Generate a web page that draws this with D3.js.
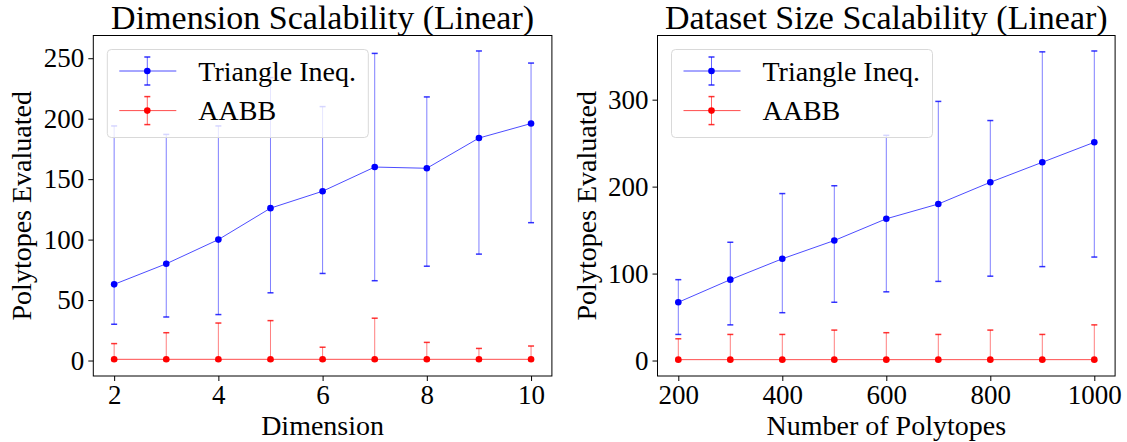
<!DOCTYPE html>
<html>
<head>
  <meta charset="UTF-8">
  <title>Scalability</title>
  <script src="https://d3js.org/d3.v7.min.js"></script>
  <style>
    body { margin: 0; background: #fff; }
    svg text { font-family: "Liberation Serif", "Times New Roman", serif; fill: #000; }
  </style>
</head>
<body>
<svg id="chart" width="1127" height="442"></svg>
<script>

  // ---- data ----
  var dimensions = [2, 3, 4, 5, 6, 7, 8, 9, 10];
  var dimTriMean  = [63, 80, 100, 126, 140, 160, 159, 184, 196];
  var dimTriLow   = [30, 36, 38, 56, 72, 66, 78, 88, 114];
  var dimTriHigh  = [194, 187, 194, 234, 210, 254, 218, 256, 246];
  var dimAabbMean = [1, 1, 1, 1, 1, 1, 1, 1, 1];
  var dimAabbLow  = [0, 0, 0, 0, 0, 0, 0, 0, 0];
  var dimAabbHigh = [14, 23, 31, 33, 11, 35, 15, 10, 12];
  var dimYTicks = [0, 50, 100, 150, 200, 250];
  var dimXTicks = [2, 4, 6, 8, 10];

  var sizes = [200, 300, 400, 500, 600, 700, 800, 900, 1000];
  var sizeTriMean  = [67, 93, 117, 138, 163, 180, 205, 228, 251];
  var sizeTriLow   = [30, 41, 55, 67, 79, 91, 97, 108, 119];
  var sizeTriHigh  = [93, 136, 192, 201, 259, 298, 276, 355, 356];
  var sizeAabbMean = [1, 1, 1, 1, 1, 1, 1, 1, 1];
  var sizeAabbLow  = [0, 0, 0, 0, 0, 0, 0, 0, 0];
  var sizeAabbHigh = [25, 30, 30, 35, 32, 30, 35, 30, 41];
  var sizeYTicks = [0, 100, 200, 300];
  var sizeXTicks = [200, 400, 600, 800, 1000];

  var seriesNames = ['Triangle Ineq.', 'AABB'];
  var seriesColors = ['#0000ff', '#ff0000'];

  var svg = d3.select('#chart');

  function pack(xs, mean, lo, hi) {
    return xs.map((x, i) => ({ x: x, y: mean[i], lo: lo[i], hi: hi[i] }));
  }

  var panels = [
    {
      left: 93.3, right: 551.9, title: 'Dimension Scalability (Linear)',
      xlabel: 'Dimension', xTicks: dimXTicks, yTicks: dimYTicks,
      series: [pack(dimensions, dimTriMean, dimTriLow, dimTriHigh),
               pack(dimensions, dimAabbMean, dimAabbLow, dimAabbHigh)]
    },
    {
      left: 657.5, right: 1115.1, title: 'Dataset Size Scalability (Linear)',
      xlabel: 'Number of Polytopes', xTicks: sizeXTicks, yTicks: sizeYTicks,
      series: [pack(sizes, sizeTriMean, sizeTriLow, sizeTriHigh),
               pack(sizes, sizeAabbMean, sizeAabbLow, sizeAabbHigh)]
    }
  ];

  var plotTop = 35.5, plotBottom = 376;

  panels.forEach(function (p) {
    var all = d3.merge(p.series);
    var xExt = d3.extent(all, d => d.x);
    var yMin = d3.min(all, d => d.lo), yMax = d3.max(all, d => d.hi);
    var xPad = (xExt[1] - xExt[0]) * 0.05, yPad = (yMax - yMin) * 0.05;

    var x = d3.scaleLinear().domain([xExt[0] - xPad, xExt[1] + xPad]).range([p.left, p.right]);
    var y = d3.scaleLinear().domain([yMin - yPad, yMax + yPad]).range([plotBottom, plotTop]);

    var g = svg.append('g');

    // series: error bars, line, markers
    p.series.forEach(function (data, si) {
      var c = seriesColors[si];
      var s = g.append('g');
      s.selectAll('.err').data(data).enter().append('line')
        .attr('x1', d => x(d.x)).attr('x2', d => x(d.x))
        .attr('y1', d => y(d.lo)).attr('y2', d => y(d.hi))
        .attr('stroke', c).attr('stroke-opacity', 0.5).attr('stroke-width', 1);
      ['lo', 'hi'].forEach(function (k) {
        s.selectAll('.cap-' + k).data(data).enter().append('line')
          .attr('x1', d => x(d.x) - 3).attr('x2', d => x(d.x) + 3)
          .attr('y1', d => y(d[k])).attr('y2', d => y(d[k]))
          .attr('stroke', c).attr('stroke-opacity', 0.8).attr('stroke-width', 1.5);
      });
      s.append('path').datum(data)
        .attr('d', d3.line().x(d => x(d.x)).y(d => y(d.y)))
        .attr('fill', 'none').attr('stroke', c).attr('stroke-opacity', 0.7).attr('stroke-width', 1);
      s.selectAll('circle').data(data).enter().append('circle')
        .attr('cx', d => x(d.x)).attr('cy', d => y(d.y)).attr('r', 3.3)
        .attr('fill', c);
    });

    // frame
    g.append('rect')
      .attr('x', p.left).attr('y', plotTop)
      .attr('width', p.right - p.left).attr('height', plotBottom - plotTop)
      .attr('fill', 'none').attr('stroke', '#000').attr('stroke-width', 1);

    // axes
    var xAxis = d3.axisBottom(x).tickValues(p.xTicks).tickFormat(d3.format('d'))
      .tickSize(5).tickSizeOuter(0).tickPadding(4);
    var gx = g.append('g').attr('transform', 'translate(0,' + plotBottom + ')').call(xAxis);
    var yAxis = d3.axisLeft(y).tickValues(p.yTicks).tickFormat(d3.format('d'))
      .tickSize(5).tickSizeOuter(0).tickPadding(4);
    var gy = g.append('g').attr('transform', 'translate(' + p.left + ',0)').call(yAxis);
    [gx, gy].forEach(function (a) {
      a.select('.domain').remove();
      a.selectAll('.tick line').attr('stroke', '#000');
      a.selectAll('.tick text').style('font-size', '27px');
    });

    // labels
    var cx = (p.left + p.right) / 2;
    g.append('text').attr('x', cx).attr('y', 28.5)
      .attr('text-anchor', 'middle').style('font-size', '34px').text(p.title);
    g.append('text').attr('x', cx).attr('y', 435)
      .attr('text-anchor', 'middle').style('font-size', '28px').text(p.xlabel);
    g.append('text')
      .attr('transform', 'translate(' + (p.left - 62) + ',' + ((plotTop + plotBottom) / 2) + ') rotate(-90)')
      .attr('text-anchor', 'middle').style('font-size', '28px').text('Polytopes Evaluated');

    // legend
    var lx = p.left + 14, ly = 49.5;
    var lg = g.append('g');
    lg.append('rect').attr('x', lx).attr('y', ly).attr('width', 261).attr('height', 88)
      .attr('rx', 4).attr('fill', '#fff').attr('fill-opacity', 0.8)
      .attr('stroke', '#d9d9d9').attr('stroke-width', 1);
    seriesNames.forEach(function (name, i) {
      var ry = ly + 21.5 + i * 39.6;
      var mx = lx + 40;
      var c = seriesColors[i];
      lg.append('line').attr('x1', lx + 12).attr('x2', lx + 69).attr('y1', ry).attr('y2', ry)
        .attr('stroke', c).attr('stroke-opacity', 0.7).attr('stroke-width', 1);
      lg.append('line').attr('x1', mx).attr('x2', mx).attr('y1', ry - 14).attr('y2', ry + 14)
        .attr('stroke', c).attr('stroke-opacity', 0.6).attr('stroke-width', 1);
      [-14, 14].forEach(function (o) {
        lg.append('line').attr('x1', mx - 3).attr('x2', mx + 3).attr('y1', ry + o).attr('y2', ry + o)
          .attr('stroke', c).attr('stroke-opacity', 0.8).attr('stroke-width', 1.5);
      });
      lg.append('circle').attr('cx', mx).attr('cy', ry).attr('r', 3.3).attr('fill', c);
      lg.append('text').attr('x', lx + 91).attr('y', ry + 9.5)
        .style('font-size', '28px').text(name);
    });
  });

</script>
</body>
</html>
